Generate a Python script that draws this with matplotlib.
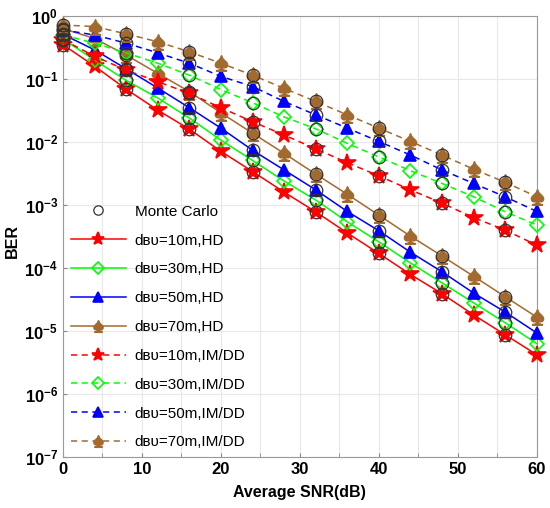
import numpy as np
import matplotlib
matplotlib.use('Agg')
import matplotlib.pyplot as plt
from matplotlib.lines import Line2D

plt.rcParams['font.family'] = ['Liberation Sans', 'DejaVu Sans']
plt.rcParams['mathtext.fontset'] = 'custom'
plt.rcParams['mathtext.rm'] = 'Liberation Sans'
plt.rcParams['mathtext.bf'] = 'Liberation Sans:bold'

snr = np.arange(0, 61, 4)

# theory curves, hard-detection (HD)
ber_hd_10 = [0.35, 0.16, 0.069, 0.032, 0.016, 7.1e-3, 3.4e-3, 1.6e-3, 7.8e-4, 3.6e-4,
             1.7e-4, 7.9e-5, 3.9e-5, 1.8e-5, 8.7e-6, 4.2e-6]
ber_hd_30 = [0.43, 0.20, 0.095, 0.050, 0.024, 0.0107, 5.1e-3, 2.4e-3, 1.2e-3, 5.4e-4,
             2.6e-4, 1.2e-4, 5.8e-5, 2.8e-5, 1.35e-5, 6.3e-6]
ber_hd_50 = [0.51, 0.29, 0.145, 0.072, 0.035, 0.0166, 7.4e-3, 3.6e-3, 1.74e-3, 7.9e-4,
             3.9e-4, 1.78e-4, 8.7e-5, 4.0e-5, 2.0e-5, 9.3e-6]
ber_hd_70 = [0.63, 0.44, 0.24, 0.123, 0.063, 0.029, 0.0138, 6.6e-3, 3.1e-3, 1.48e-3,
             6.9e-4, 3.2e-4, 1.55e-4, 7.4e-5, 3.5e-5, 1.66e-5]
# theory curves, IM/DD
ber_im_10 = [0.42, 0.23, 0.138, 0.091, 0.059, 0.035, 0.021, 0.0129, 7.8e-3, 4.7e-3,
             2.9e-3, 1.74e-3, 1.07e-3, 6.3e-4, 4.0e-4, 2.3e-4]
ber_im_30 = [0.50, 0.37, 0.26, 0.178, 0.115, 0.068, 0.042, 0.025, 0.0162, 9.5e-3,
             5.8e-3, 3.5e-3, 2.2e-3, 1.35e-3, 7.8e-4, 4.8e-4]
ber_im_50 = [0.60, 0.50, 0.37, 0.26, 0.178, 0.110, 0.076, 0.044, 0.027, 0.0166,
             0.0102, 6.2e-3, 3.6e-3, 2.2e-3, 1.35e-3, 7.9e-4]
ber_im_70 = [0.72, 0.68, 0.52, 0.39, 0.27, 0.178, 0.115, 0.071, 0.044, 0.027,
             0.0166, 0.0102, 6.2e-3, 3.7e-3, 2.3e-3, 1.35e-3]

labels = ['dʙᴜ=10m,HD', 'dʙᴜ=30m,HD', 'dʙᴜ=50m,HD', 'dʙᴜ=70m,HD',
          'dʙᴜ=10m,IM/DD', 'dʙᴜ=30m,IM/DD', 'dʙᴜ=50m,IM/DD', 'dʙᴜ=70m,IM/DD']
yticks = [1e-7, 1e-6, 1e-5, 1e-4, 1e-3, 1e-2, 1e-1, 1]
ytick_labels = [r'$\mathbf{10^{-7}}$', r'$\mathbf{10^{-6}}$', r'$\mathbf{10^{-5}}$',
                r'$\mathbf{10^{-4}}$', r'$\mathbf{10^{-3}}$', r'$\mathbf{10^{-2}}$',
                r'$\mathbf{10^{-1}}$', r'$\mathbf{10^{0}}$']

brown = '#A26A2F'
colors = ['#FF0000', '#00FF00', '#0000FF', brown]
spade = '$\u2660$'
markers = ['*', 'D', '^', spade]
msizes = [13, 7.5, 9, 11]
fills = [True, False, True, True]

fig = plt.figure(figsize=(5.5, 5.08), dpi=100)
ax = fig.add_axes([0.1145, 0.1004, 0.8615, 0.8681])

curves = [ber_hd_10, ber_hd_30, ber_hd_50, ber_hd_70,
          ber_im_10, ber_im_30, ber_im_50, ber_im_70]
handles = []
for i, y in enumerate(curves):
    k = i % 4
    ls = '-' if i < 4 else (0, (4, 3))
    mfc = colors[k] if fills[k] else 'none'
    h, = ax.plot(snr, y, color=colors[k], ls=ls, lw=1.1, marker=markers[k],
                 ms=msizes[k], mfc=mfc, mec=colors[k], mew=1.2, clip_on=False,
                 zorder=3, label=labels[i])
    handles.append(h)

# Monte Carlo points every 8 dB
for y in curves:
    ax.plot(snr[:-1:2], np.array(y)[:-1:2], ls='none', marker='o', ms=9, mfc='none',
            mec='#333333', mew=0.9, clip_on=False, zorder=4)

mc = Line2D([], [], ls='none', marker='o', ms=9, mfc='none', mec='#333333', mew=0.9)
leg = ax.legend([mc] + handles, ['Monte Carlo'] + labels, loc='lower left',
                frameon=False, fontsize=11, handlelength=3.6, labelspacing=0.97,
                markerscale=0.75, borderaxespad=0.1, handletextpad=0.6)

ax.set_yscale('log')
ax.set_ylim(1e-7, 1)
ax.set_xlim(0, 60)
ax.set_yticks(yticks)
ax.set_yticklabels(ytick_labels)
ax.yaxis.set_minor_locator(matplotlib.ticker.NullLocator())
ax.set_xticks(np.arange(0, 61, 10))
ax.set_xticks(np.arange(5, 60, 10), minor=True)
ax.tick_params(which='both', direction='in', length=3, color='#888888', labelsize=12)
for t in ax.get_xticklabels():
    t.set_fontweight('bold')
ax.grid(True, which='both', color='#e8e8e8', lw=0.8)
ax.set_axisbelow(True)
for s in ax.spines.values():
    s.set_color('#999999')
ax.set_xlabel('Average SNR(dB)', fontsize=11.5, fontweight='bold', labelpad=6)
ax.set_ylabel('BER', fontsize=11.5, fontweight='bold')
ax.yaxis.set_label_coords(-0.09, 0.49)

fig.savefig('out.png', dpi=100)
